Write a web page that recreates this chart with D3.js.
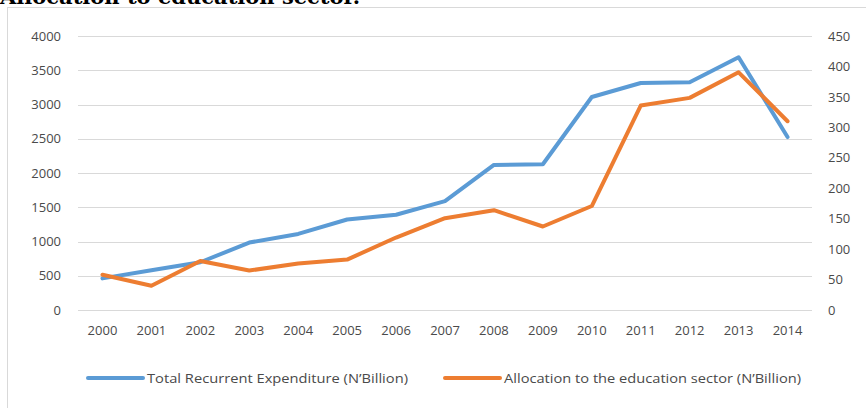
<!DOCTYPE html>
<html>
<head>
<meta charset="utf-8">
<script src="https://cdn.jsdelivr.net/npm/d3@7"></script>
<style>
	body { margin: 0; background: #fff; }
	svg text { font-family: "Open Sans", sans-serif; fill: #4a4a4a; }
</style>
</head>
<body>
<svg id="chart"></svg>
<script>
var years = ["2000","2001","2002","2003","2004","2005","2006","2007","2008","2009","2010","2011","2012","2013","2014"];
var recurrent = [461.6, 579.3, 696.8, 984.3, 1110.6, 1321.2, 1390.1, 1589.3, 2117.4, 2128.0, 3109.4, 3314.4, 3325.2, 3689.1, 2525.0];
var education = [57.96, 39.88, 80.53, 64.78, 76.53, 82.8, 119.0, 150.8, 163.98, 137.12, 170.8, 335.8, 348.4, 390.4, 310.0];
var leftTicks = [0, 500, 1000, 1500, 2000, 2500, 3000, 3500, 4000];
var rightTicks = [0, 50, 100, 150, 200, 250, 300, 350, 400, 450];
var seriesNames = ["Total Recurrent Expenditure (N\u2019Billion)", "Allocation to the education sector (N\u2019Billion)"];
var colors = ["#5B9BD5", "#ED7D31"];

var width = 866, height = 408;
var margin = { top: 36, right: 54, bottom: 98, left: 78 };

var svg = d3.select("#chart").attr("width", width).attr("height", height);

// heading of the page, cut off by the crop like in the source
svg.append("text")
	.attr("x", 0).attr("y", 4)
	.style("font-family", "'DejaVu Serif', serif")
	.style("font-weight", "bold")
	.style("font-size", "21px")
	.style("fill", "#000")
	.text("Allocation to education sector.");

svg.append("rect")
	.attr("x", 7.5).attr("y", 7.5)
	.attr("width", width).attr("height", height)
	.attr("fill", "#fff")
	.attr("stroke", "#D9D9D9");

var xScale = d3.scaleBand().domain(years).range([margin.left, width - margin.right]);
var yLeft = d3.scaleLinear().domain([0, 4000]).range([height - margin.bottom, margin.top]);
var yRight = d3.scaleLinear().domain([0, 450]).range([height - margin.bottom, margin.top]);

// gridlines
svg.append("g").selectAll("line")
	.data(leftTicks)
	.enter().append("line")
	.attr("x1", margin.left).attr("x2", width - margin.right)
	.attr("y1", function(d) { return Math.round(yLeft(d)) + 0.5; })
	.attr("y2", function(d) { return Math.round(yLeft(d)) + 0.5; })
	.attr("stroke", "#D9D9D9");

var yAxisLeft = svg.append("g")
	.attr("transform", "translate(" + (margin.left - 17) + ",0)")
	.call(d3.axisLeft(yLeft).tickValues(leftTicks).tickSize(0).tickFormat(d3.format("d")));
var yAxisRight = svg.append("g")
	.attr("transform", "translate(" + (width - margin.right + 16) + ",0)")
	.call(d3.axisRight(yRight).tickValues(rightTicks).tickSize(0).tickFormat(d3.format("d")));
var xAxis = svg.append("g")
	.attr("transform", "translate(0," + (height - margin.bottom + 13) + ")")
	.call(d3.axisBottom(xScale).tickSize(0));

[yAxisLeft, yAxisRight, xAxis].forEach(function(a) {
	a.select(".domain").remove();
	a.selectAll("text").style("font-size", "13px").attr("fill", "#4a4a4a");
});
yAxisLeft.selectAll("text").attr("x", 0);
yAxisRight.selectAll("text").attr("x", 0);

var lineLeft = d3.line()
	.x(function(d, i) { return xScale(years[i]) + xScale.bandwidth() / 2; })
	.y(function(d) { return yLeft(d); });
var lineRight = d3.line()
	.x(function(d, i) { return xScale(years[i]) + xScale.bandwidth() / 2; })
	.y(function(d) { return yRight(d); });

svg.append("path")
	.datum(recurrent)
	.attr("d", lineLeft)
	.attr("fill", "none")
	.attr("stroke", colors[0])
	.attr("stroke-width", 4)
	.attr("stroke-linejoin", "round")
	.attr("stroke-linecap", "round");

svg.append("path")
	.datum(education)
	.attr("d", lineRight)
	.attr("fill", "none")
	.attr("stroke", colors[1])
	.attr("stroke-width", 4)
	.attr("stroke-linejoin", "round")
	.attr("stroke-linecap", "round");

// legend
var legendX = [88, 445];
var legendWidths = [261, 297];
var legend = svg.append("g").selectAll("g")
	.data(seriesNames)
	.enter().append("g")
	.attr("transform", function(d, i) { return "translate(" + legendX[i] + ",378)"; });
legend.append("line")
	.attr("x1", 0).attr("x2", 55)
	.attr("stroke", function(d, i) { return colors[i]; })
	.attr("stroke-width", 4)
	.attr("stroke-linecap", "round");
legend.append("text")
	.attr("x", 59).attr("dy", "0.35em")
	.style("font-size", "13.5px")
	.attr("textLength", function(d, i) { return legendWidths[i]; })
	.attr("lengthAdjust", "spacingAndGlyphs")
	.text(function(d) { return d; });
</script>
</body>
</html>
